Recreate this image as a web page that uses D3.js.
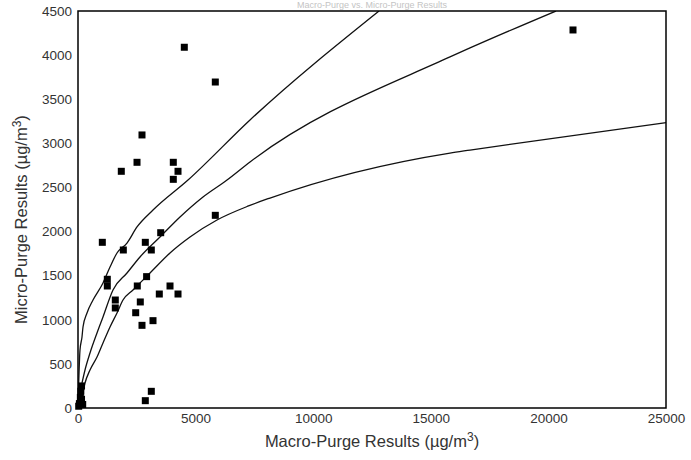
<!DOCTYPE html>
<html><head><meta charset="utf-8">
<script src="https://cdn.jsdelivr.net/npm/d3@7"></script>
<style>body{margin:0;background:#fff;} svg{display:block;font-family:"Liberation Sans",Arial,sans-serif;}</style>
</head><body><svg id="c" width="691" height="460"></svg>
<script>
const xTicks = [0, 5000, 10000, 15000, 20000, 25000];
const yTicks = [0, 500, 1000, 1500, 2000, 2500, 3000, 3500, 4000, 4500];

const macro = [4520, 5838, 2721, 2509, 1841, 4052, 4252, 4052, 1034, 1927, 2862, 3117, 3516, 5838,
  1246, 1246, 2917, 2521, 3457, 3912, 4252, 1586, 1586, 2649, 2453, 2721, 3189, 3117, 2862,
  21046, 150, 120, 100, 150, 30, 200, 60];
const micro = [4089, 3695, 3095, 2785, 2683, 2785, 2683, 2592, 1878, 1791, 1878, 1791, 1987, 2184,
  1459, 1383, 1489, 1383, 1292, 1383, 1292, 1224, 1134, 1202, 1080, 937, 990, 189, 83,
  4285, 250, 190, 120, 100, 20, 40, 50];

const upperX = [0, 85, 170, 213, 383, 638, 1063, 1361, 1658, 2083, 2509, 3189, 4677, 7313, 12798];
const upperY = [0, 657, 805, 918, 1077, 1224, 1417, 1598, 1757, 1870, 2052, 2244, 2584, 3265, 4500];
const midX = [0, 43, 170, 298, 510, 808, 1063, 1488, 2083, 2636, 3486, 4337, 5315, 6335, 7313, 15816, 16667, 20323];
const midY = [0, 125, 283, 431, 623, 850, 1032, 1338, 1530, 1712, 1938, 2165, 2392, 2584, 2789, 3979, 4081, 4500];
const lowX = [0, 170, 298, 510, 808, 1063, 1361, 1658, 1913, 2338, 3061, 3912, 4762, 5910, 7250, 8163, 15816, 16667, 25000];
const lowY = [0, 125, 283, 431, 578, 737, 918, 1077, 1224, 1338, 1530, 1757, 1938, 2131, 2290, 2380, 2890, 2924, 3235];

const svg = d3.select("#c");
const L = 78, R = 666, T = 11, B = 408;
const x = d3.scaleLinear().domain([0, 25000]).range([L, R]);
const y = d3.scaleLinear().domain([0, 4500]).range([B, T]);

// faint title at the very top
svg.append("text").attr("x", 372).attr("y", 8).attr("text-anchor", "middle")
  .attr("font-size", 9).attr("fill", "#c4c4c4").text("Macro-Purge vs. Micro-Purge Results");

svg.append("defs").append("clipPath").attr("id", "clip")
  .append("rect").attr("x", L).attr("y", T).attr("width", R - L).attr("height", B - T);

const line = d3.line().x(d => x(d[0])).y(d => y(d[1])).curve(d3.curveMonotoneX);
const curves = [[upperX, upperY], [midX, midY], [lowX, lowY]];
svg.append("g").attr("clip-path", "url(#clip)").selectAll("path").data(curves).join("path")
  .attr("d", c => line(c[0].map((v, i) => [v, c[1][i]])))
  .attr("fill", "none").attr("stroke", "#111").attr("stroke-width", 1.3);

const s = 7;
svg.append("g").selectAll("rect").data(macro.map((v, i) => [v, micro[i]])).join("rect")
  .attr("x", d => x(d[0]) - s / 2).attr("y", d => y(d[1]) - s / 2)
  .attr("width", s).attr("height", s).attr("fill", "#000");

svg.append("rect").attr("x", L).attr("y", T).attr("width", R - L).attr("height", B - T)
  .attr("fill", "none").attr("stroke", "#000").attr("stroke-width", 1.5);

const xa = svg.append("g").attr("transform", `translate(0,${B})`)
  .call(d3.axisBottom(x).tickValues(xTicks).tickSize(0).tickPadding(5).tickFormat(d3.format("d")));
xa.select(".domain").remove();
xa.selectAll("text").attr("font-size", 13.5).attr("fill", "#333").attr("font-family", "Liberation Sans, Arial, sans-serif");

const ya = svg.append("g").attr("transform", `translate(${L},0)`)
  .call(d3.axisLeft(y).tickValues(yTicks).tickSize(0).tickPadding(6).tickFormat(d3.format("d")));
ya.select(".domain").remove();
ya.selectAll("text").attr("font-size", 13.5).attr("fill", "#333").attr("font-family", "Liberation Sans, Arial, sans-serif");

const xt = svg.append("text").attr("x", (L + R) / 2).attr("y", 447).attr("text-anchor", "middle")
  .attr("font-size", 16.5).attr("fill", "#333");
xt.append("tspan").text("Macro-Purge Results (µg/m");
xt.append("tspan").attr("dy", -6).attr("font-size", 12).text("3");
xt.append("tspan").attr("dy", 6).text(")");

const yt = svg.append("text").attr("transform", `translate(27,${(T + B) / 2 + 10}) rotate(-90)`)
  .attr("text-anchor", "middle").attr("font-size", 16.5).attr("fill", "#333");
yt.append("tspan").text("Micro-Purge  Results (µg/m");
yt.append("tspan").attr("dy", -6).attr("font-size", 12).text("3");
yt.append("tspan").attr("dy", 6).text(")");
</script></body></html>
